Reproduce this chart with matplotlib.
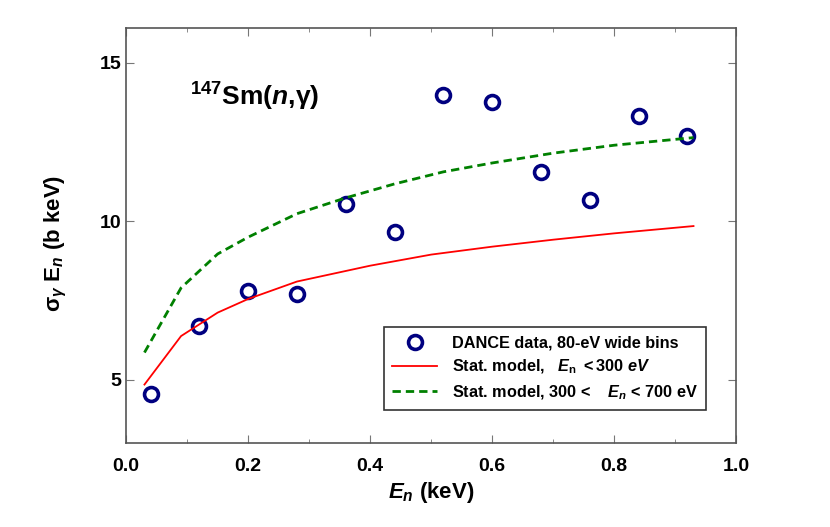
import numpy as np
import matplotlib
matplotlib.use("Agg")
import matplotlib.pyplot as plt
from matplotlib.ticker import MultipleLocator

# -- data --
en_data = [0.04, 0.12, 0.20, 0.28, 0.36, 0.44, 0.52, 0.60, 0.68, 0.76, 0.84, 0.92]
sig_data = [4.56, 6.71, 7.81, 7.72, 10.55, 9.67, 13.97, 13.75, 11.54, 10.68, 13.33, 12.70]

en_low = [0.03, 0.09, 0.15, 0.20, 0.28, 0.40, 0.50, 0.60, 0.70, 0.80, 0.93]
sig_low = [4.85, 6.38, 7.12, 7.55, 8.10, 8.60, 8.95, 9.20, 9.42, 9.62, 9.85]

en_mid = [0.03, 0.09, 0.15, 0.20, 0.28, 0.36, 0.44, 0.52, 0.60, 0.70, 0.80, 0.93]
sig_mid = [5.86, 7.90, 8.97, 9.50, 10.24, 10.74, 11.18, 11.56, 11.84, 12.15, 12.40, 12.64]

# -- fonts --
plt.rcParams['font.family'] = ['Liberation Sans', 'DejaVu Sans']
plt.rcParams['font.weight'] = 'bold'
plt.rcParams['mathtext.fontset'] = 'custom'
plt.rcParams['mathtext.rm'] = 'Liberation Sans:bold'
plt.rcParams['mathtext.bf'] = 'Liberation Sans:bold'
plt.rcParams['mathtext.it'] = 'Liberation Sans:italic:bold'

fig = plt.figure(figsize=(8.3, 5.27), dpi=100)
ax = fig.add_axes([0.152, 0.159, 0.735, 0.788])

ax.plot(en_data, sig_data, 'o', ms=10, mfc='none', mec='#000080', mew=2.6,
        label='DANCE data, 80-eV wide bins')
ax.plot(en_low, sig_low, '-', color='red', lw=1.3,
        label=r'Stat. model,   $E_{\mathrm{n}}$ $< 300\ eV$')
ax.plot(en_mid, sig_mid, '--', color='#008000', lw=2.0, dashes=(3, 1.8),
        label=r'Stat. model, 300 <    $E_n$ < 700 eV')

ax.set_xlim(0, 1.0)
ax.set_ylim(3, 16.1)
ax.xaxis.set_major_locator(MultipleLocator(0.2))
ax.xaxis.set_minor_locator(MultipleLocator(0.1))
ax.yaxis.set_major_locator(MultipleLocator(5))
ax.tick_params(which='both', direction='in', top=True, right=True,
               color='#777777', labelsize=14)
ax.tick_params(which='major', length=6)
ax.tick_params(which='minor', length=3)
ax.tick_params(axis='x', pad=11)
for s in ax.spines.values():
    s.set_color('#555555')
    s.set_linewidth(1.2)

ax.set_xlabel(r'$E_n$ (keV)', fontsize=16, fontweight='bold', labelpad=3)
ax.set_ylabel('σ$_γ$ E$_n$ (b keV)', fontsize=16, fontweight='bold')
ax.yaxis.set_label_coords(-0.093, 0.48)

ax.text(0.105, 13.65, r'$^{\mathrm{147}}$Sm($n$,γ)', fontsize=19,
        fontweight='bold')

leg = ax.legend(loc='lower right', bbox_to_anchor=(0.951, 0.08),
                borderaxespad=0, fontsize=11.7,
                frameon=True, fancybox=False, edgecolor='black',
                handlelength=2.77, handletextpad=0.92, borderpad=0.5,
                labelspacing=0.45)
leg.get_frame().set_linewidth(1.2)

fig.savefig('out.png', dpi=100)
